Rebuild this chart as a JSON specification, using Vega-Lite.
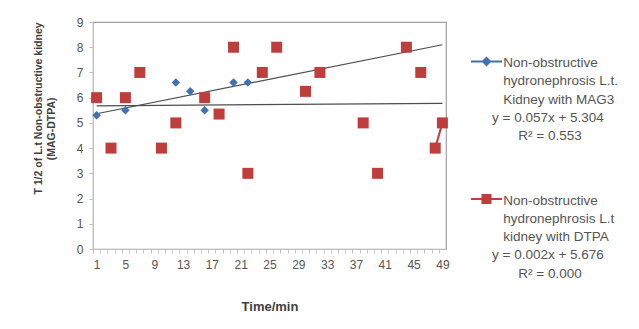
{
  "$schema": "https://vega.github.io/schema/vega-lite/v6.json",
  "width": 353,
  "height": 227,
  "autosize": "none",
  "padding": {"left": 93, "top": 22, "right": 193, "bottom": 80},
  "background": "white",
  "config": {
    "view": {"stroke": "#a0a0a0", "strokeWidth": 1.2},
    "font": "Liberation Sans",
    "style": {"guide-label": {"lineHeight": 18.3}}
  },
  "datasets": {
    "points": [
      {"series": "MAG3", "t": 1, "v": 5.3, "run": "m1"},
      {"series": "MAG3", "t": 5, "v": 5.5, "run": "m2"},
      {"series": "MAG3", "t": 12, "v": 6.6, "run": "m3"},
      {"series": "MAG3", "t": 14, "v": 6.25, "run": "m4"},
      {"series": "MAG3", "t": 16, "v": 5.5, "run": "m5"},
      {"series": "MAG3", "t": 20, "v": 6.6, "run": "m6"},
      {"series": "MAG3", "t": 22, "v": 6.6, "run": "m7"},
      {"series": "DTPA", "t": 1, "v": 6, "run": "d1"},
      {"series": "DTPA", "t": 3, "v": 4, "run": "d2"},
      {"series": "DTPA", "t": 5, "v": 6, "run": "d3"},
      {"series": "DTPA", "t": 7, "v": 7, "run": "d4"},
      {"series": "DTPA", "t": 10, "v": 4, "run": "d5"},
      {"series": "DTPA", "t": 12, "v": 5, "run": "d6"},
      {"series": "DTPA", "t": 16, "v": 6, "run": "d7"},
      {"series": "DTPA", "t": 18, "v": 5.35, "run": "d8"},
      {"series": "DTPA", "t": 20, "v": 8, "run": "d9"},
      {"series": "DTPA", "t": 22, "v": 3, "run": "d10"},
      {"series": "DTPA", "t": 24, "v": 7, "run": "d11"},
      {"series": "DTPA", "t": 26, "v": 8, "run": "d12"},
      {"series": "DTPA", "t": 30, "v": 6.25, "run": "d13"},
      {"series": "DTPA", "t": 32, "v": 7, "run": "d14"},
      {"series": "DTPA", "t": 38, "v": 5, "run": "d15"},
      {"series": "DTPA", "t": 40, "v": 3, "run": "d16"},
      {"series": "DTPA", "t": 44, "v": 8, "run": "d17"},
      {"series": "DTPA", "t": 46, "v": 7, "run": "d18"},
      {"series": "DTPA", "t": 48, "v": 4, "run": "d19"},
      {"series": "DTPA", "t": 49, "v": 5, "run": "d19"}
    ],
    "trend": [
      {"series": "MAG3", "t": 1, "v": 5.361},
      {"series": "MAG3", "t": 49, "v": 8.097},
      {"series": "DTPA", "t": 1, "v": 5.678},
      {"series": "DTPA", "t": 49, "v": 5.774}
    ]
  },
  "encoding": {
    "x": {
      "field": "t",
      "type": "quantitative",
      "scale": {"domain": [0.5, 49.5], "nice": false, "zero": false},
      "axis": {
        "values": [1,2,3,4,5,6,7,8,9,10,11,12,13,14,15,16,17,18,19,20,21,22,23,24,25,26,27,28,29,30,31,32,33,34,35,36,37,38,39,40,41,42,43,44,45,46,47,48,49],
        "tickOffset": -3.6,
        "labelOffset": 3.6,
        "labelExpr": "(datum.value - 1) % 4 == 0 ? datum.label : ''",
        "labelOverlap": false,
        "labelFlush": false,
        "grid": false,
        "domainColor": "#c0c0c0",
        "tickColor": "#c0c0c0",
        "tickSize": 4,
        "labelPadding": 6,
        "labelFontSize": 12,
        "labelColor": "#555555",
        "title": "Time/min",
        "titleFontSize": 13,
        "titleFontWeight": "bold",
        "titleColor": "#404040",
        "titlePadding": 30
      }
    },
    "y": {
      "field": "v",
      "type": "quantitative",
      "scale": {"domain": [0, 9], "nice": false},
      "axis": {
        "values": [0,1,2,3,4,5,6,7,8,9],
        "grid": false,
        "domainColor": "#c0c0c0",
        "tickColor": "#c0c0c0",
        "tickSize": 4,
        "labelPadding": 6,
        "labelFontSize": 12,
        "labelColor": "#555555",
        "title": ["T 1/2 of L.t Non-obstructive kidney", "(MAG-DTPA)\u00a0\u00a0\u00a0\u00a0\u00a0\u00a0\u00a0\u00a0\u00a0\u00a0\u00a0\u00a0\u00a0\u00a0\u200b"],
        "titleFontSize": 10.5,
        "titleFontWeight": "bold",
        "titleColor": "#404040",
        "titleAngle": -90,
        "titleBaseline": "top",
        "titleAlign": "center",
        "titleX": -60,
        "titleY": 86,
        "titleLineHeight": 13
      }
    }
  },
  "layer": [
    {
      "data": {"name": "points"},
      "mark": {"type": "point", "filled": true, "opacity": 0, "strokeWidth": 2, "size": 961},
      "encoding": {
        "color": {
          "field": "series",
          "type": "nominal",
          "scale": {"domain": ["MAG3", "DTPA"], "range": ["#4170b3", "#bf3d3d"]},
          "legend": {
            "orient": "none",
            "legendX": 377,
            "legendY": 28.5,
            "title": null,
            "padding": 0,
            "symbolSize": 961,
            "symbolOpacity": 1,
            "symbolStrokeWidth": 2,
            "labelOffset": -11,
            "rowPadding": 44.5,
            "labelFontSize": 13.5,
            "labelColor": "#555555",
            "labelLimit": 400,
            "labelBaseline": "alphabetic",
            "labelExpr": "datum.value === 'MAG3' ? ['\u200b\u00a0\u00a0\u00a0Non-obstructive', '\u200b\u00a0\u00a0\u00a0hydronephrosis L.t.', '\u200b\u00a0\u00a0\u00a0Kidney with MAG3', 'y = 0.057x + 5.304', '\u200b\u00a0\u00a0\u00a0\u00a0\u00a0\u00a0\u00a0R\u00b2 = 0.553'] : ['\u200b\u00a0\u00a0\u00a0Non-obstructive', '\u200b\u00a0\u00a0\u00a0hydronephrosis L.t', '\u200b\u00a0\u00a0\u00a0kidney with DTPA', 'y = 0.002x + 5.676', '\u200b\u00a0\u00a0\u00a0\u00a0\u00a0\u00a0\u00a0R\u00b2 = 0.000']"
          }
        },
        "stroke": {
          "field": "series",
          "type": "nominal",
          "scale": {"domain": ["MAG3", "DTPA"], "range": ["#4170b3", "#bf3d3d"]}
        },
        "shape": {
          "field": "series",
          "type": "nominal",
          "scale": {"domain": ["MAG3", "DTPA"], "range": ["M-1,-0.355L1,-0.355M-0.23,-0.355L0,-0.585L0.23,-0.355L0,-0.125Z", "M-1,-0.355L1,-0.355M-0.26,-0.615L0.26,-0.615L0.26,-0.095L-0.26,-0.095Z"]}
        }
      }
    },
    {
      "data": {"name": "trend"},
      "mark": {"type": "line", "color": "#4d4d4d", "strokeWidth": 1.2},
      "encoding": {"detail": {"field": "series"}}
    },
    {
      "data": {"name": "points"},
      "transform": [{"filter": "datum.series === 'MAG3'"}],
      "mark": {"type": "point", "shape": "diamond", "size": 72, "filled": true, "opacity": 1, "strokeWidth": 0},
      "encoding": {
        "color": {"field": "series", "type": "nominal"}
      }
    },
    {
      "data": {"name": "points"},
      "transform": [{"filter": "datum.series === 'DTPA'"}],
      "mark": {"type": "point", "shape": "square", "size": 121, "filled": true, "opacity": 1, "strokeWidth": 0},
      "encoding": {
        "color": {"field": "series", "type": "nominal"}
      }
    },
    {
      "data": {"name": "points"},
      "mark": {"type": "line", "strokeWidth": 2},
      "encoding": {
        "detail": {"field": "run"},
        "color": {"field": "series", "type": "nominal"}
      }
    }
  ]
}
